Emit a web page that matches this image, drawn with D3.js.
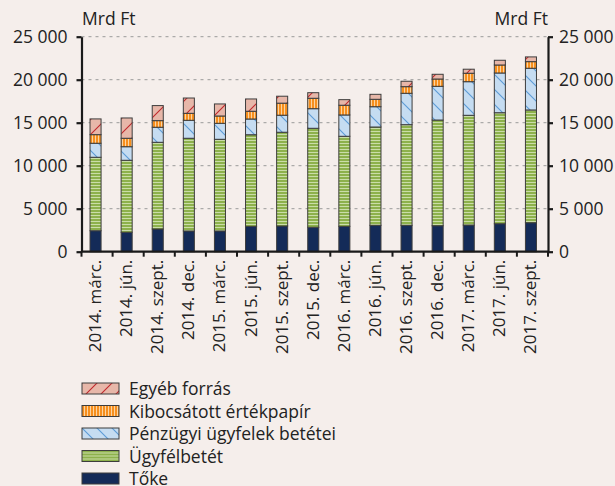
<!DOCTYPE html>
<html>
<head>
<meta charset="utf-8">
<script src="https://cdn.jsdelivr.net/npm/d3@7"></script>
<style>
  html, body { margin: 0; padding: 0; background: #f5eeeb; }
  svg { display: block; font-family: "Open Sans", Lato, sans-serif; }
</style>
</head>
<body>
<svg id="chart" width="615" height="486"></svg>
<script>
// quarters on the x axis
const categories = ['2014. márc.', '2014. jún.', '2014. szept.', '2014. dec.',
  '2015. márc.', '2015. jún.', '2015. szept.', '2015. dec.',
  '2016. márc.', '2016. jún.', '2016. szept.', '2016. dec.',
  '2017. márc.', '2017. jún.', '2017. szept.'];

// series, bottom to top (Mrd Ft)
const toke = [2440, 2260, 2640, 2410, 2410, 2950, 2990, 2840, 2950, 3070, 3070, 3020, 3100, 3250, 3370];
const ugyfelbetet = [8540, 8370, 10080, 10780, 10660, 10650, 10900, 11510, 10470, 11430, 11700, 12290, 12760, 12910, 13110];
const penzugyi = [1630, 1580, 1750, 2090, 1860, 1830, 1980, 2280, 2480, 2360, 3650, 3920, 3910, 4620, 4850];
const kibocsatott = [1000, 980, 770, 810, 850, 900, 1400, 1210, 1130, 860, 770, 850, 980, 930, 770];
const egyeb = [1830, 2360, 1750, 1780, 1400, 1430, 810, 650, 650, 580, 630, 550, 470, 550, 550];

const yTicks = [0, 5000, 10000, 15000, 20000, 25000];

(function () {
  const seriesKeys = ['toke', 'ugyfel', 'penz', 'kib', 'egyeb'];
  const seriesNames = {
    egyeb: 'Egyéb forrás',
    kib: 'Kibocsátott értékpapír',
    penz: 'Pénzügyi ügyfelek betétei',
    ugyfel: 'Ügyfélbetét',
    toke: 'Tőke'
  };
  const fontSize = 17.5;
  const ink = '#222';

  const rows = categories.map((c, i) => ({
    cat: c, toke: toke[i], ugyfel: ugyfelbetet[i], penz: penzugyi[i], kib: kibocsatott[i], egyeb: egyeb[i]
  }));

  const svg = d3.select('#chart');
  const left = 81.5, right = 548, plotTop = 36.7, bottom = 251.7;

  const x = d3.scaleBand().domain(categories).range([left, right])
    .paddingInner(0.645).paddingOuter(0.3225);
  const y = d3.scaleLinear().domain([0, 25000]).range([bottom, plotTop]);

  // patterns
  const defs = svg.append('defs');
  function pat(id, w, h, draw) {
    const p = defs.append('pattern').attr('id', id).attr('patternUnits', 'userSpaceOnUse')
      .attr('width', w).attr('height', h);
    draw(p);
  }
  pat('p-ugyfel', 6, 3, p => {
    p.append('rect').attr('width', 6).attr('height', 3).attr('fill', '#cadda8');
    p.append('rect').attr('width', 6).attr('height', 2).attr('fill', '#8db14c');
  });
  pat('p-kib', 3, 6, p => {
    p.append('rect').attr('width', 3).attr('height', 6).attr('fill', '#fcd3a0');
    p.append('rect').attr('width', 2).attr('height', 6).attr('fill', '#f68f1e');
  });
  pat('p-penz', 15, 15, p => {
    p.append('rect').attr('width', 15).attr('height', 15).attr('fill', '#c5dcf1');
    p.append('path').attr('d', 'M0,0L15,15M-2,13L2,17M13,-2L17,2').attr('stroke', '#5c9bd6').attr('stroke-width', 1.1);
  });
  pat('p-egyeb', 15, 15, p => {
    p.append('rect').attr('width', 15).attr('height', 15).attr('fill', '#e7b7a9');
    p.append('path').attr('d', 'M0,15L15,0M-2,2L2,-2M13,17L17,13').attr('stroke', '#c0282d').attr('stroke-width', 1.1);
  });
  const fills = {
    toke: '#142b58', ugyfel: 'url(#p-ugyfel)', penz: 'url(#p-penz)', kib: 'url(#p-kib)', egyeb: 'url(#p-egyeb)'
  };

  // gridlines
  svg.append('g').selectAll('line').data(yTicks.filter(d => d > 0)).join('line')
    .attr('x1', left).attr('x2', right)
    .attr('y1', d => y(d)).attr('y2', d => y(d))
    .attr('stroke', '#9a9a9a').attr('stroke-width', 1).attr('stroke-dasharray', '3,4');

  // stacked bars
  const stacked = d3.stack().keys(seriesKeys)(rows);
  svg.append('g').selectAll('g').data(stacked).join('g')
    .attr('fill', d => fills[d.key])
    .selectAll('rect').data(d => d).join('rect')
    .attr('x', d => x(d.data.cat) - 1.5)
    .attr('width', x.bandwidth())
    .attr('y', d => y(d[1]))
    .attr('height', d => y(d[0]) - y(d[1]))
    .attr('stroke', '#3d3d3d').attr('stroke-width', 1);

  // axes
  const yFmt = d => d === 0 ? '0' : d3.format(',')(d).replace(/,/g, ' ');
  const axL = svg.append('g').attr('transform', `translate(${left},0)`)
    .call(d3.axisLeft(y).tickValues(yTicks).tickSize(5).tickSizeOuter(0).tickFormat(yFmt));
  const axR = svg.append('g').attr('transform', `translate(${right},0)`)
    .call(d3.axisRight(y).tickValues(yTicks).tickSize(5).tickSizeOuter(0).tickFormat(yFmt));
  [axL, axR].forEach(a => {
    a.select('.domain').attr('stroke', '#1a1a1a').attr('stroke-width', 2.2);
    a.selectAll('.tick line').attr('stroke', '#1a1a1a').attr('stroke-width', 2.2);
    a.selectAll('.tick text').attr('fill', ink).attr('font-size', fontSize)
      .attr('font-family', '"Open Sans", sans-serif').attr('dy', '0.34em');
  });
  axL.selectAll('.tick text').attr('x', -14);
  axR.selectAll('.tick text').attr('x', 11);

  // x baseline + ticks
  const xAx = svg.append('g');
  xAx.append('line').attr('x1', left).attr('x2', right).attr('y1', bottom).attr('y2', bottom)
    .attr('stroke', '#1a1a1a').attr('stroke-width', 2.2);
  xAx.selectAll('line.t').data(d3.range(categories.length + 1)).join('line').attr('class', 't')
    .attr('x1', i => left + i * x.step()).attr('x2', i => left + i * x.step())
    .attr('y1', bottom).attr('y2', bottom + 5)
    .attr('stroke', '#1a1a1a').attr('stroke-width', 2);
  xAx.selectAll('text').data(categories).join('text')
    .attr('transform', d => `translate(${x(d) + x.bandwidth() / 2 + 4},${bottom + 8}) rotate(-90)`)
    .attr('text-anchor', 'end')
    .attr('font-size', 17).attr('fill', ink)
    .text(d => d);

  // unit labels
  svg.append('text').attr('x', 82).attr('y', 25).attr('font-size', fontSize).attr('fill', ink).text('Mrd Ft');
  svg.append('text').attr('x', 548).attr('y', 25).attr('text-anchor', 'end').attr('font-size', fontSize).attr('fill', ink).text('Mrd Ft');

  // legend
  const legendOrder = ['egyeb', 'kib', 'penz', 'ugyfel', 'toke'];
  const lg = svg.append('g').selectAll('g').data(legendOrder).join('g')
    .attr('transform', (d, i) => `translate(82,${383 + i * 22.5})`);
  lg.append('rect').attr('width', 37).attr('height', 11)
    .attr('fill', d => fills[d]).attr('stroke', '#3d3d3d').attr('stroke-width', 1);
  lg.append('text').attr('x', 47).attr('y', 12).attr('font-size', fontSize).attr('fill', ink)
    .text(d => seriesNames[d]);
})();
</script>
</body>
</html>
